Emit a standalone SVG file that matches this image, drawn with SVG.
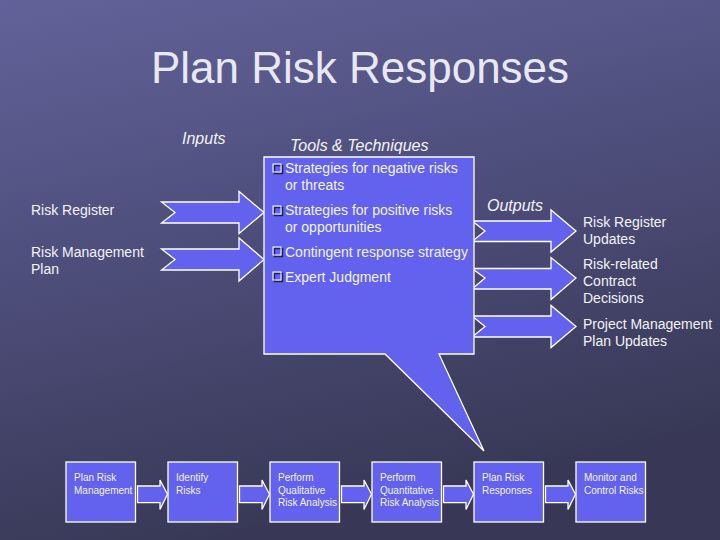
<svg xmlns="http://www.w3.org/2000/svg" width="720" height="540" viewBox="0 0 720 540">
<defs>
<linearGradient id="bg" x1="0" y1="0" x2="0.3" y2="1">
<stop offset="0" stop-color="#62629a"/>
<stop offset="0.5" stop-color="#4d4d7a"/>
<stop offset="1" stop-color="#383856"/>
</linearGradient>
<style>
.t{font-family:"Liberation Sans",Arial,sans-serif;fill:#f2f2f7;}
.lbl{font-size:14px;}
.hd{font-size:16px;font-style:italic;}
.sm{font-size:10px;}
.shape{fill:#6262ee;stroke:#ffffff;stroke-width:1.3;}
.cb{fill:none;stroke:#ffffff;stroke-width:1;}
.cbs{fill:none;stroke:#22224a;stroke-width:1.5;}
</style>
</defs>
<rect x="0" y="0" width="720" height="540" fill="url(#bg)"/>

<text class="t" x="360" y="83" font-size="44" text-anchor="middle" style="fill:#e8e8f4">Plan Risk Responses</text>
<text class="t hd" x="182" y="144">Inputs</text>
<text class="t hd" x="290" y="151">Tools &amp; Techniques</text>
<text class="t hd" x="487" y="211">Outputs</text>

<g id="inputs">
<text class="t lbl" x="31" y="215">Risk Register</text>
<text class="t lbl" x="31" y="257">Risk Management</text>
<text class="t lbl" x="31" y="274">Plan</text>
</g>

<g id="connectors">
<polygon class="shape" points="161.5,202 239,202 239,191.5 264,212.5 239,233.5 239,223 161.5,223 175,212.5"/>
<polygon class="shape" points="161.5,249 239,249 239,238 264,259.5 239,281 239,270 161.5,270 175,259.5"/>
<polygon class="shape" points="472,221 551,221 551,210 576,231 551,252 551,241.5 472,241.5 485,231"/>
<polygon class="shape" points="472,268.5 551,268.5 551,257.5 576,278 551,299.5 551,289 472,289 485,278"/>
<polygon class="shape" points="472,316 551,316 551,305.5 576,326.5 551,347.5 551,337 472,337 485,326.5"/>
<polygon class="shape" points="137.5,486 160,486 160,480 167.5,494.3 160,509.5 160,502.7 137.5,502.7"/>
<polygon class="shape" points="239.5,486 262,486 262,480 269.5,494.3 262,509.5 262,502.7 239.5,502.7"/>
<polygon class="shape" points="341.5,486 364,486 364,480 371.5,494.3 364,509.5 364,502.7 341.5,502.7"/>
<polygon class="shape" points="443.5,486 466,486 466,480 473.5,494.3 466,509.5 466,502.7 443.5,502.7"/>
<polygon class="shape" points="545.5,486 568,486 568,480 575.5,494.3 568,509.5 568,502.7 545.5,502.7"/>
</g>

<g id="tools">
<path class="shape" d="M264,157 H474 V354 H439 L484,451 L385,354 H264 Z"/>
<g>
<rect class="cbs" x="274.5" y="165.5" width="8" height="8"/>
<rect class="cb" x="273" y="164" width="8" height="8"/>
<rect class="cbs" x="274.5" y="207.5" width="8" height="8"/>
<rect class="cb" x="273" y="206" width="8" height="8"/>
<rect class="cbs" x="274.5" y="248.5" width="8" height="8"/>
<rect class="cb" x="273" y="247" width="8" height="8"/>
<rect class="cbs" x="274.5" y="273.5" width="8" height="8"/>
<rect class="cb" x="273" y="272" width="8" height="8"/>
</g>
<text class="t lbl" x="285" y="173">Strategies for negative risks</text>
<text class="t lbl" x="285" y="190">or threats</text>
<text class="t lbl" x="285" y="215">Strategies for positive risks</text>
<text class="t lbl" x="285" y="232">or opportunities</text>
<text class="t lbl" x="285" y="257">Contingent response strategy</text>
<text class="t lbl" x="285" y="282">Expert Judgment</text>
</g>

<g id="outputs">
<text class="t lbl" x="583" y="227">Risk Register</text>
<text class="t lbl" x="583" y="244">Updates</text>
<text class="t lbl" x="583" y="269">Risk-related</text>
<text class="t lbl" x="583" y="286">Contract</text>
<text class="t lbl" x="583" y="303">Decisions</text>
<text class="t lbl" x="583" y="329">Project Management</text>
<text class="t lbl" x="583" y="346">Plan Updates</text>
</g>

<g id="p1"><rect class="shape" x="66" y="462" width="69.5" height="60"/>
<text class="t sm" x="74" y="481">Plan Risk</text><text class="t sm" x="74" y="493.5">Management</text></g>
<g id="p2"><rect class="shape" x="168" y="462" width="69.5" height="60"/>
<text class="t sm" x="176" y="481">Identify</text><text class="t sm" x="176" y="493.5">Risks</text></g>
<g id="p3"><rect class="shape" x="270" y="462" width="69.5" height="60"/>
<text class="t sm" x="278" y="481">Perform</text><text class="t sm" x="278" y="493.5">Qualitative</text><text class="t sm" x="278" y="506">Risk Analysis</text></g>
<g id="p4"><rect class="shape" x="372" y="462" width="69.5" height="60"/>
<text class="t sm" x="380" y="481">Perform</text><text class="t sm" x="380" y="493.5">Quantitative</text><text class="t sm" x="380" y="506">Risk Analysis</text></g>
<g id="p5"><rect class="shape" x="474" y="462" width="69.5" height="60"/>
<text class="t sm" x="482" y="481">Plan Risk</text><text class="t sm" x="482" y="493.5">Responses</text></g>
<g id="p6"><rect class="shape" x="576" y="462" width="69.5" height="60"/>
<text class="t sm" x="584" y="481">Monitor and</text><text class="t sm" x="584" y="493.5">Control Risks</text></g>
</svg>
